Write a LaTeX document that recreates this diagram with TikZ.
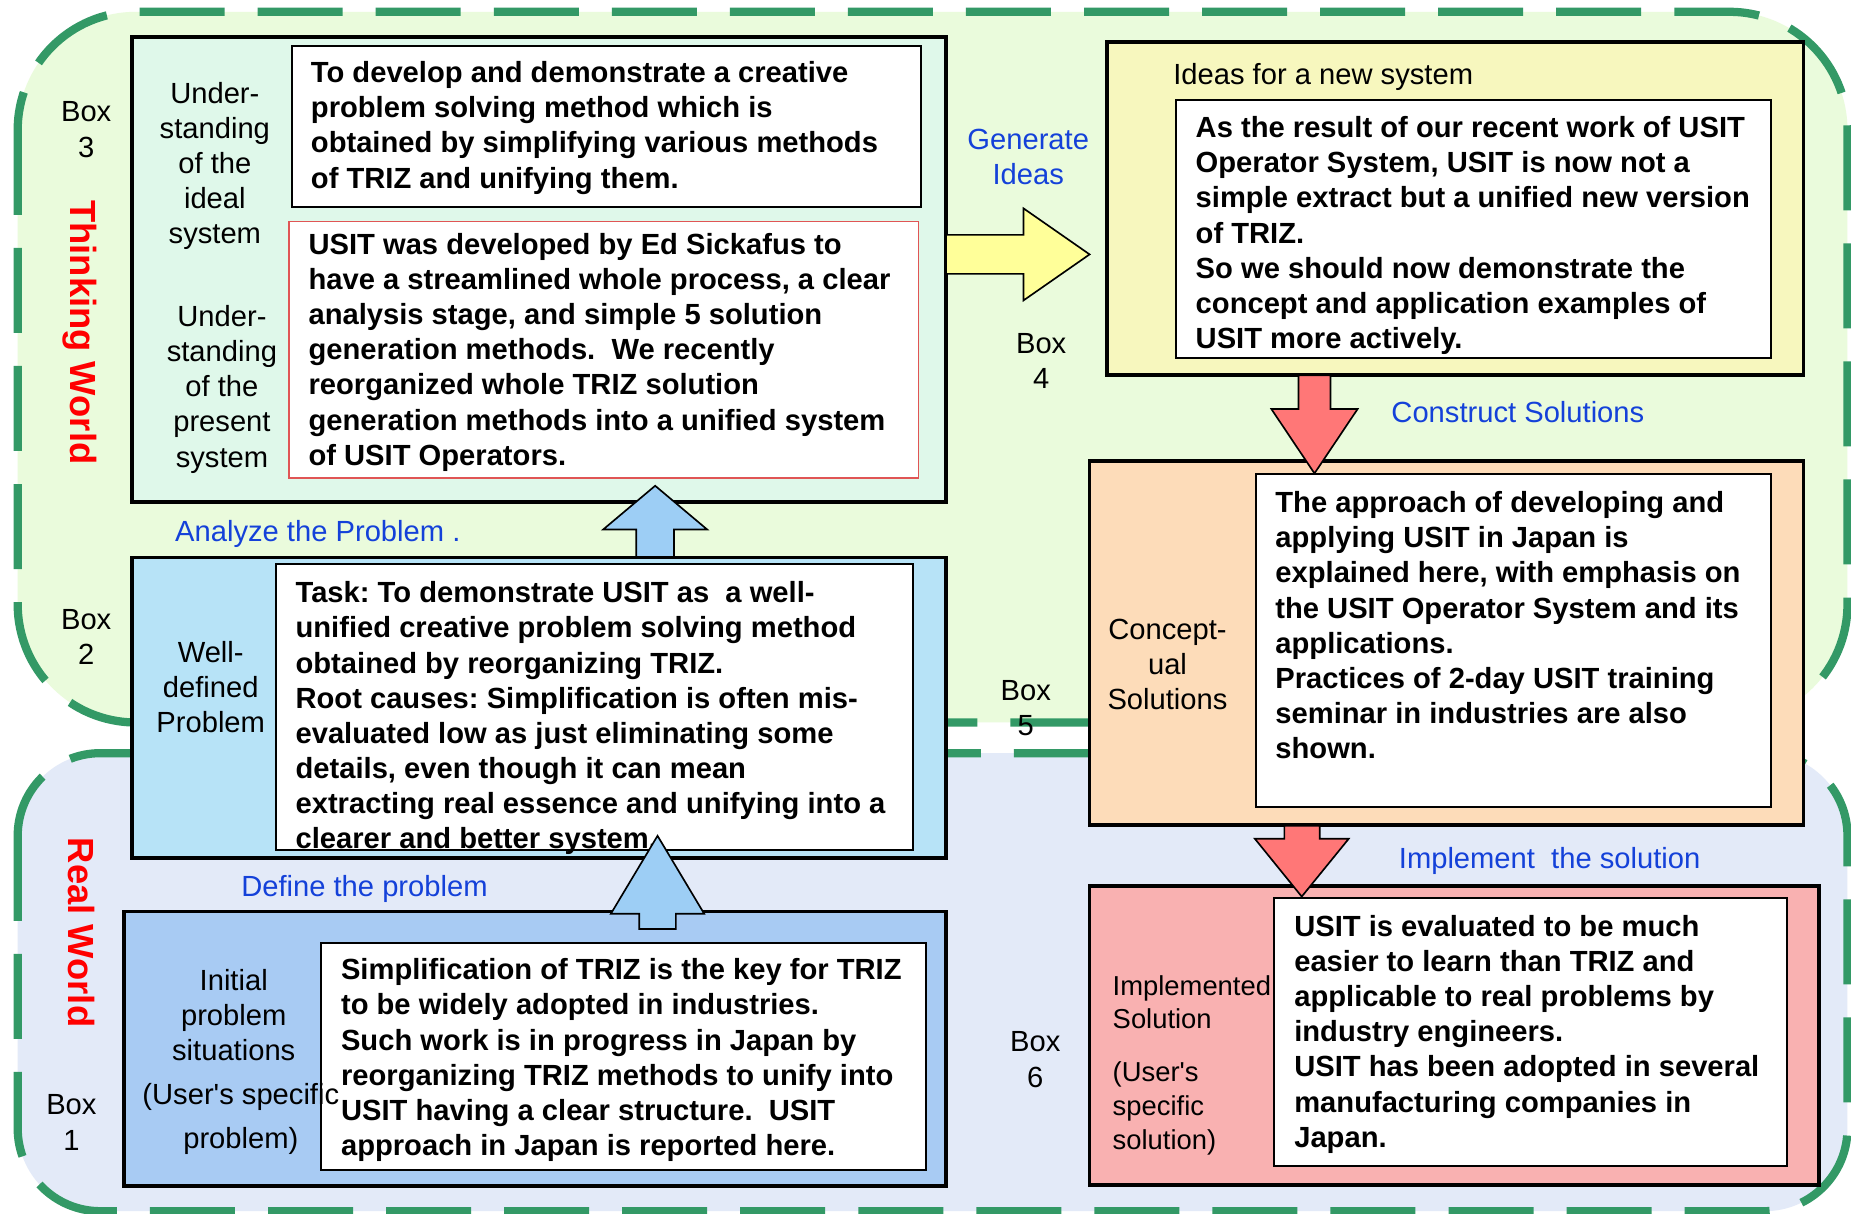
\documentclass[tikz,border=0pt]{standalone}
\usepackage{fontspec}
\setmainfont{Liberation Sans}
\frenchspacing
\definecolor{worldgreen}{HTML}{339966}
\definecolor{thinkfill}{HTML}{EAFBDC}
\definecolor{realfill}{HTML}{E3EAF8}
\definecolor{idealfill}{HTML}{DFF8EA}
\definecolor{taskfill}{HTML}{B7E3F7}
\definecolor{initfill}{HTML}{A8CBF3}
\definecolor{ideasfill}{HTML}{F7F7BE}
\definecolor{conceptfill}{HTML}{FDDCB9}
\definecolor{implfill}{HTML}{F9B1B1}
\definecolor{arrowyellow}{HTML}{FFFF99}
\definecolor{arrowblue}{HTML}{9DCEF5}
\definecolor{arrowred}{HTML}{FF7777}
\definecolor{actionblue}{HTML}{1441D9}
\definecolor{cardred}{HTML}{E05555}
% rectangle node from its top-left and bottom-right corners
\newcommand{\rectnode}[6]{%
  \node[#2, minimum width={((#5)-(#3))*0.5pt}, minimum height={((#6)-(#4))*0.5pt}] (#1) at (#3,#4) {};}
% a block of lines whose baseline is the baseline of its first line
\newcommand{\textlines}[2]{\begin{tabular}[t]{@{}#1@{}}#2\end{tabular}}
\begin{document}
\begin{tikzpicture}[x=0.5pt,y=-0.5pt,
  world/.style={draw=worldgreen, line width=3.5pt, dash pattern=on 36pt off 14pt},
  panel/.style={draw=black, line width=1.6pt, anchor=north west, inner sep=0pt, outer sep=0pt},
  card/.style={draw=black, line width=0.9pt, fill=white, anchor=north west, inner sep=0pt, outer sep=0pt},
  body/.style={font=\bfseries\fontsize{12.35}{14.9}\selectfont, anchor=base west, inner sep=0pt},
  side/.style={font=\fontsize{12.35}{14.85}\selectfont, anchor=base, inner sep=0pt},
  sidesmall/.style={font=\fontsize{11.6}{14.3}\selectfont, anchor=base west, inner sep=0pt},
  boxno/.style={font=\fontsize{12.35}{15}\selectfont, anchor=base, inner sep=0pt},
  action/.style={font=\fontsize{12.35}{15}\selectfont, text=actionblue, anchor=base west, inner sep=0pt},
  worldname/.style={font=\bfseries\fontsize{15.4}{18}\selectfont, text=red, rotate=-90, inner sep=0pt},
  blockarrow/.style={draw=black, line width=0.7pt, line join=miter}
]
\useasboundingbox (0,0) rectangle (1568,1028);
\fill[white] (0,0) rectangle (1568,1028);

% the two worlds
\draw[world, fill=thinkfill, rounded corners=50pt] (15,10) rectangle (1565,612);
\draw[world, fill=realfill, rounded corners=35pt] (15,638) rectangle (1565,1026);

% Box 3: understanding of the ideal / present system
\rectnode{box3}{panel, fill=idealfill}{112}{31.5}{801.5}{425}
\rectnode{box3a}{card}{247}{39.3}{780}{175.5}
\rectnode{box3b}{card, draw=cardred, line width=0.7pt}{245}{187.5}{778}{405}

% Box 4: ideas for a new system
\rectnode{box4}{panel, fill=ideasfill}{938}{35.7}{1527.8}{317.7}
\rectnode{box4a}{card}{996}{84.7}{1500.5}{303}

% Box 5: conceptual solutions
\rectnode{box5}{panel, fill=conceptfill}{923}{390.3}{1527.8}{699}
\rectnode{box5a}{card}{1064}{401.2}{1500.5}{683.3}

% Box 6: implemented solution
\rectnode{box6}{panel, fill=implfill}{923}{750.3}{1540.6}{1004}
\rectnode{box6a}{card}{1079.2}{760.7}{1514}{988}

% arrows between the upper boxes
\draw[blockarrow, fill=arrowyellow] (801.5,199) -- (867,199) -- (867,176.5) -- (923,215.5)
  -- (867,254.5) -- (867,232) -- (801.5,232) -- cycle;
\draw[blockarrow, fill=arrowblue] (539,472) -- (539,448.5) -- (511,448.5) -- (555,411.5)
  -- (599,448.5) -- (571,448.5) -- (571,472) -- cycle;
\draw[blockarrow, fill=arrowred] (1100,318) -- (1100,346.5) -- (1077,346.5) -- (1113.5,401)
  -- (1150,346.5) -- (1127,346.5) -- (1127,318) -- cycle;
\draw[blockarrow, fill=arrowred] (1088,699.5) -- (1088,710.5) -- (1063,710.5) -- (1102.7,759.5)
  -- (1142.5,710.5) -- (1118,710.5) -- (1118,699.5) -- cycle;

% Box 2: well-defined problem
\rectnode{box2}{panel, fill=taskfill}{112}{472.3}{801.5}{726.5}
\rectnode{box2a}{card}{233.6}{477.8}{773.7}{719.7}

% Box 1: initial problem situations
\rectnode{box1}{panel, fill=initfill}{105}{772.2}{801.5}{1004.7}
\rectnode{box1a}{card}{272}{798.5}{784.5}{991.4}

% texts of Box 3
\node[body] (t3a) at (263,70) {\textlines{l}{To develop and demonstrate a creative\\problem solving method which is\\obtained by simplifying various methods\\of TRIZ and unifying them.}};
\node[body] (t3b) at (261,215.4) {\textlines{l}{USIT was developed by Ed Sickafus to\\have a streamlined whole process, a clear\\analysis stage, and simple 5 solution\\generation methods.\ \ We recently\\reorganized whole TRIZ solution\\generation methods into a unified system\\of USIT Operators.}};
\node[side] (l3a) at (182,87.7) {\textlines{c}{Under-\\standing\\of the\\ideal\\system}};
\node[side] (l3b) at (188,276.8) {\textlines{c}{Under-\\standing\\of the\\present\\system}};
\node[boxno] (n3) at (73,103) {\textlines{c}{Box\\3}};

% texts of Box 2
\node[body] (t2) at (250,510.5) {\textlines{l}{Task: To demonstrate USIT as\ \ a well-\\unified creative problem solving method\\obtained by reorganizing TRIZ.\\Root causes: Simplification is often mis-\\evaluated low as just eliminating some\\details, even though it can mean\\extracting real essence and unifying into a\\clearer and better system.}};
\node[side] (l2) at (178.5,561.2) {\textlines{c}{Well-\\defined\\Problem}};
\node[boxno] (n2) at (73,533) {\textlines{c}{Box\\2}};
\node[action] (a2) at (148,459) {Analyze the Problem .};

% texts of Box 1
\node[body] (t1) at (288.5,830) {\textlines{l}{Simplification of TRIZ is the key for TRIZ\\to be widely adopted in industries.\\Such work is in progress in Japan by\\reorganizing TRIZ methods to unify into\\USIT having a clear structure.\ \ USIT\\approach in Japan is reported here.}};
\node[side] (l1a) at (198,839) {\textlines{c}{Initial\\problem\\situations}};
\node[side] (l1b) at (204,936) {\textlines{c}{(User\textquotesingle s specific\\[3.4pt]problem)}};
\node[boxno] (n1) at (60.5,944.5) {\textlines{c}{Box\\1}};
\node[action] (a1) at (204,759) {Define the problem};

% texts of Box 4
\node[font=\fontsize{12.35}{15}\selectfont, anchor=base west, inner sep=0pt] (h4) at (993.5,71.7) {Ideas for a new system};
\node[body] (t4) at (1012.5,116.5) {\textlines{l}{As the result of our recent work of USIT\\Operator System, USIT is now not a\\simple extract but a unified new version\\of TRIZ.\\So we should now demonstrate the\\concept and application examples of\\USIT more actively.}};
\node[boxno] (n4) at (882,299.5) {\textlines{c}{Box\\4}};
\node[action, anchor=base] (a4) at (871,126.5) {\textlines{c}{Generate\\Ideas}};
\node[action] (a5) at (1178.3,357.6) {Construct Solutions};

% texts of Box 5
\node[body] (t5) at (1080,434.2) {\textlines{l}{The approach of developing and\\applying USIT in Japan is\\explained here, with emphasis on\\the USIT Operator System and its\\applications.\\Practices of 2-day USIT training\\seminar in industries are also\\shown.}};
\node[side] (l5) at (989,542) {\textlines{c}{Concept-\\ual\\Solutions}};
\node[boxno] (n5) at (869,593) {\textlines{c}{Box\\5}};
\node[action] (a6) at (1184.6,735.6) {Implement\ \ the solution};

% texts of Box 6
\node[body] (t6) at (1096,793) {\textlines{l}{USIT is evaluated to be much\\easier to learn than TRIZ and\\applicable to real problems by\\industry engineers.\\USIT has been adopted in several\\manufacturing companies in\\Japan.}};
\node[sidesmall] (l6a) at (942.2,843) {\textlines{l}{Implemented\\Solution}};
\node[sidesmall] (l6b) at (942.2,916.3) {\textlines{l}{(User\textquotesingle s\\specific\\solution)}};
\node[boxno] (n6) at (877,891) {\textlines{c}{Box\\6}};

% names of the two worlds
\node[worldname] (tw) at (68,281.5) {Thinking World};
\node[worldname] (rw) at (69,790) {Real World};

% arrow from Box 1 up to Box 2
\draw[blockarrow, fill=arrowblue] (541.5,787) -- (541.5,774) -- (517.5,774) -- (557,708)
  -- (596.5,774) -- (572.5,774) -- (572.5,787) -- cycle;
\end{tikzpicture}
\end{document}
